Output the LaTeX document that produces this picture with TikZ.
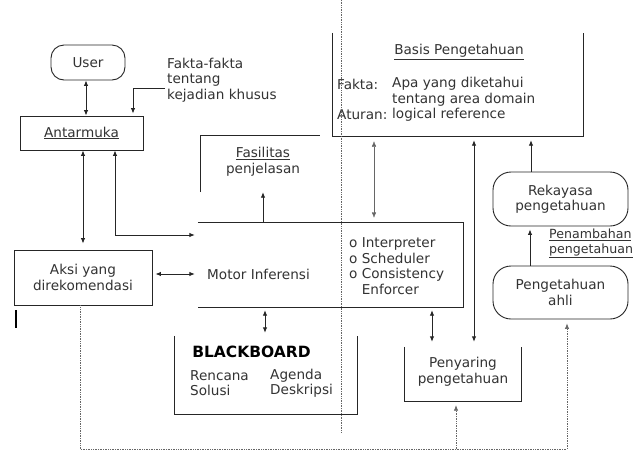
\documentclass[tikz,border=0pt]{standalone}
\usepackage{fontspec}
\setmainfont{DejaVu Sans}
\usetikzlibrary{arrows.meta,calc}
\tikzset{
  txt/.style={font=\fontsize{13.6}{15.5}\selectfont, inner sep=0pt, align=center, text=black!80},
  ln/.style={line width=0.9pt, draw=black!85},
  thinln/.style={line width=0.4pt, draw=black!60},
  dots/.style={line width=0.7pt, draw=black!60, densely dotted},
  arr/.style={-{Latex[length=5.5pt,width=4.5pt]}},
  darr/.style={{Latex[length=5.5pt,width=4.5pt]}-{Latex[length=5.5pt,width=4.5pt]}},
  boxx/.style={txt, draw=black!85, line width=0.9pt},
}
\begin{document}
\begin{tikzpicture}[x=1pt,y=-1pt]
\useasboundingbox[fill=white] (0,0) rectangle (638,451);

% boxes
\node[boxx, rounded corners=13pt, minimum width=74pt, minimum height=35pt] (user) at (88,62.5) {User};
\node[boxx, minimum width=123pt, minimum height=34pt] (antar) at (81.5,133) {\underline{Antarmuka}};
\node[txt, align=left, anchor=west] (fakta) at (167,80) {Fakta-fakta\\tentang\\kejadian khusus};

\node[inner sep=0pt, minimum width=119pt, minimum height=56pt] (fasil) at (260.5,164) {};
\node[txt] (fasiltxt) at (263,161.5) {\underline{Fasilitas}\\penjelasan};

\node[inner sep=0pt, minimum width=250pt, minimum height=103pt] (basis) at (458,84.5) {};
\node[txt] (basistitle) at (459,52) {\underline{Basis Pengetahuan}};
\node[txt, anchor=west] (faktalbl) at (337,84) {Fakta:};
\node[txt, anchor=west] (aturlbl) at (337,115) {Aturan:};
\node[txt, align=left, anchor=west] (basisdesc) at (392,99.5) {Apa yang diketahui\\tentang area domain\\logical reference};

\node[inner sep=0pt, minimum width=265pt, minimum height=84pt] (motor) at (330.5,265) {};
\node[txt] (motortxt) at (258.5,274) {Motor Inferensi};
\node[txt, align=left, anchor=west] (bullets) at (349,266) {o Interpreter\\o Scheduler\\o Consistency\\\phantom{o }Enforcer};

\node[boxx, minimum width=138pt, minimum height=55pt] (aksi) at (83,277.5) {Aksi yang\\direkomendasi};

\node[inner sep=0pt, minimum width=182pt, minimum height=78pt] (bb) at (266,375) {};
\node[txt, font=\fontsize{15.5}{17}\selectfont\bfseries, text=black] (bbtitle) at (251.5,352) {BLACKBOARD};
\node[txt, align=left, anchor=west] (renc) at (190,383) {Rencana\\Solusi};
\node[txt, align=left, anchor=west] (agen) at (270,383) {Agenda\\Deskripsi};

\node[inner sep=0pt, minimum width=116pt, minimum height=54pt] (peny) at (463,374) {};
\node[txt] (penytxt) at (463,371.5) {Penyaring\\pengetahuan};

\node[boxx, rounded corners=18pt, minimum width=135pt, minimum height=54pt] (reka) at (560.5,199) {Rekayasa\\pengetahuan};
\node[boxx, rounded corners=18pt, minimum width=135pt, minimum height=53pt] (ahli) at (560.5,292.5) {Pengetahuan\\ahli};
\node[txt, font=\fontsize{12.6}{14.5}\selectfont, align=left, anchor=west] (penamb) at (549,243.5) {\underline{Penambahan}\\\underline{pengetahuan}};

% open box outlines
\draw[ln] (fasil.south west) -- (fasil.north west) -- (fasil.north east);
\draw[ln] (basis.north west) -- (basis.south west) -- (basis.south east) -- (basis.north east);
\draw[ln] (motor.north west) -- (motor.north east) -- (motor.south east) -- (motor.south west);
\draw[ln] (bb.north west) -- (bb.south west) -- (bb.south east) -- (bb.north east);
\draw[ln] (peny.north west) -- (peny.south west) -- (peny.south east) -- (peny.north east);

% coordinates
\coordinate (vt) at (341,0);
\coordinate (vb) at (341,432);
\coordinate (bl) at (80,449);
\coordinate (bm) at (456,449);
\coordinate (br) at (567,449);

% dotted separator
\draw[dots] (vt) -- (vb);

% connectors
\draw[ln,darr] (user.south -| 86,0) -- (antar.north -| 86,0);
\draw[ln,arr] ($(fakta.west)+(-2,8)$) -| ($(antar.north -| 133,0)+(0,-2)$);
\draw[ln,darr, shorten >=6pt] (antar.south -| 83,0) -- (aksi.north -| 83,0);
\draw[ln,darr, shorten >=3pt] (antar.south -| 115,0) |- (motor.west |- 0,235);
\draw[ln,darr, shorten >=3pt, shorten <=3pt] (aksi.east |- 0,274) -- (motor.west |- 0,274);
\draw[ln,arr] (motor.north -| 263,0) -- (fasil.south -| 263,0);
\draw[thinln,darr, shorten >=5pt, shorten <=5pt] (basis.south -| 374,0) -- (motor.north -| 374,0);
\draw[ln,darr, shorten >=5pt, shorten <=4pt] (basis.south -| 474,0) -- (peny.north -| 474,0);
\draw[ln,darr, shorten >=5pt, shorten <=3pt] (motor.south -| 432,0) -- (peny.north -| 432,0);
\draw[ln,darr, shorten >=3pt, shorten <=3pt] (motor.south -| 265,0) -- (bb.north -| 265,0);
\draw[ln,arr, shorten >=4pt] (reka.north -| 531,0) -- (basis.south -| 531,0);
\draw[ln,arr, shorten >=3pt] (ahli.north -| 530,0) -- (reka.south -| 530,0);

% dotted feedback
\draw[dots,arr] (aksi.south -| bl) -- (bl) -- (br) -- ($(ahli.south -| br)+(0,4)$);
\draw[dots,arr] (bm) -- ($(peny.south -| bm)+(0,4)$);

% stray mark
\draw[line width=2pt] (16,310) -- (16,328);
\end{tikzpicture}
\end{document}
